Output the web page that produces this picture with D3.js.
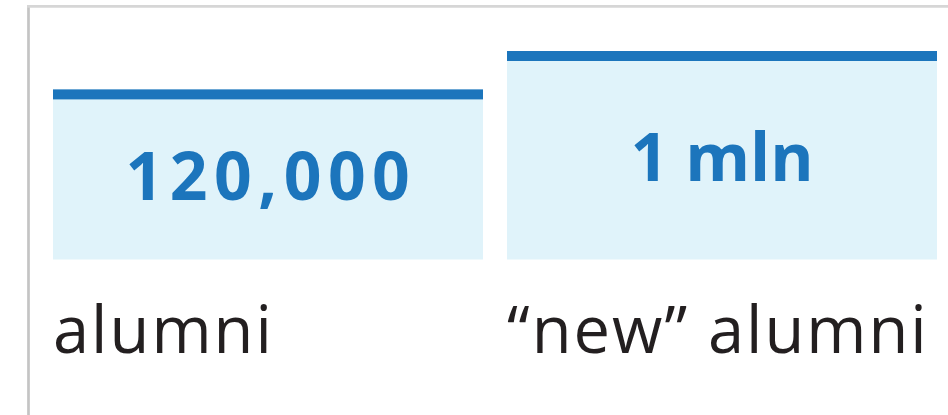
<!DOCTYPE html>
<html>
<head>
<meta charset="utf-8">
<script src="https://cdn.jsdelivr.net/npm/d3@7"></script>
<style>
  body { margin: 0; background: #fff; }
  svg { display: block; }
</style>
</head>
<body>
<svg id="chart" width="948" height="415"></svg>
<script>
// Data
var categories = ["alumni", "\u201cnew\u201d alumni"];
var values = [120000, 1000000];
var valueLabels = ["120,000", "1 mln"];

var width = 948, height = 415;
var svg = d3.select("#chart");

// Frame lines at the left and top
svg.append("line")
    .attr("x1", 28.5).attr("y1", 6).attr("x2", 28.5).attr("y2", height)
    .attr("stroke", "#c4c4c4").attr("stroke-width", 2.7);
svg.append("line")
    .attr("x1", 27).attr("y1", 6.3).attr("x2", width).attr("y2", 6.3)
    .attr("stroke", "#d6d6d6").attr("stroke-width", 2.7);

var x = d3.scaleBand()
    .domain(categories)
    .range([53, 937])
    .paddingInner(0.0529)
    .paddingOuter(0);

// Log scale, the boxes are not linear in value
var y = d3.scaleLog()
    .domain([10, 1000000])
    .range([259.5, 51]);

var barH = 10;

var g = svg.selectAll("g.bar")
    .data(categories)
    .enter().append("g")
    .attr("class", "bar");

// light fill
g.append("rect")
    .attr("x", function(d) { return x(d); })
    .attr("y", function(d, i) { return y(values[i]); })
    .attr("width", x.bandwidth())
    .attr("height", function(d, i) { return y.range()[0] - y(values[i]); })
    .attr("fill", "#e0f3fa");

// blue top strip
g.append("rect")
    .attr("x", function(d) { return x(d); })
    .attr("y", function(d, i) { return y(values[i]); })
    .attr("width", x.bandwidth())
    .attr("height", barH)
    .attr("fill", "#1c75bc");

// value labels - the wide numerals need extra tracking
g.append("text")
    .attr("x", function(d, i) {
        var spaced = /^[\d,]+$/.test(valueLabels[i]);
        return x(d) + x.bandwidth() / 2 + (spaced ? 3 : 0);
    })
    .attr("y", function(d, i) {
        var mid = (y(values[i]) + y.range()[0]) / 2;
        return mid + 26;
    })
    .attr("text-anchor", "middle")
    .attr("font-family", "'Open Sans', sans-serif")
    .attr("font-weight", 700)
    .attr("font-size", 66)
    .attr("letter-spacing", function(d, i) {
        return /^[\d,]+$/.test(valueLabels[i]) ? 6.5 : 0;
    })
    .attr("fill", "#1c75bc")
    .text(function(d, i) { return valueLabels[i]; });

// category labels below
g.append("text")
    .attr("x", function(d) { return x(d); })
    .attr("y", 353)
    .attr("font-family", "'Open Sans', sans-serif")
    .attr("font-size", 65)
    .attr("letter-spacing", 2)
    .attr("fill", "#231f20")
    .text(function(d) { return d; });
</script>
</body>
</html>
